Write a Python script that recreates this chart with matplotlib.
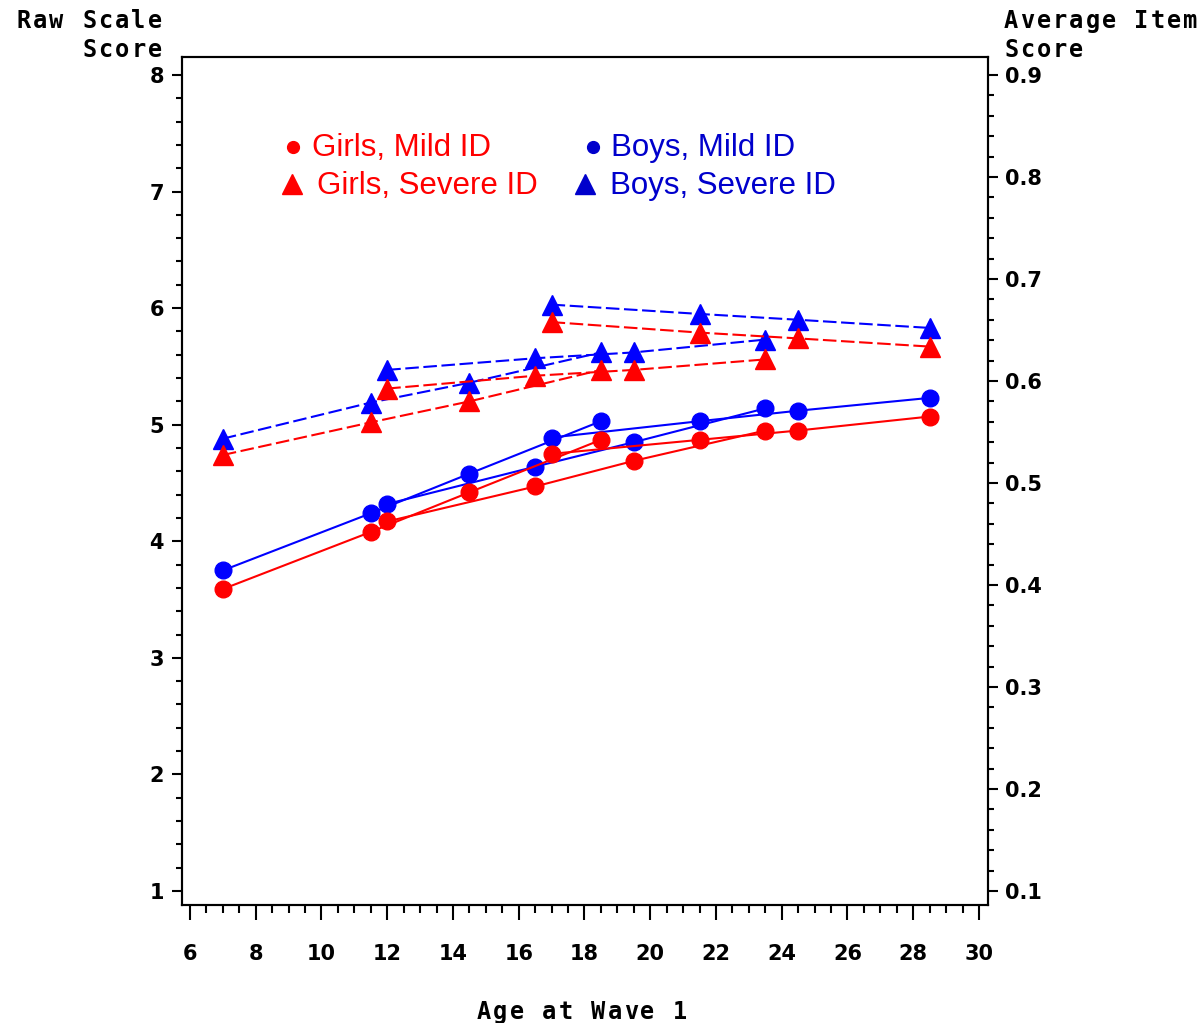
import matplotlib
matplotlib.use("Agg")
import matplotlib.pyplot as plt
from matplotlib.ticker import MultipleLocator, FixedLocator
from matplotlib.font_manager import FontProperties
from matplotlib.lines import Line2D

# Cohort-sequential design: three cohorts, each measured at four waves
ages_cohort_a = [7, 11.5, 14.5, 18.5]
ages_cohort_b = [12, 16.5, 19.5, 23.5]
ages_cohort_c = [17, 21.5, 24.5, 28.5]

# Raw scale scores, one list per cohort
girls_mild_a = [3.59, 4.08, 4.42, 4.87]
girls_mild_b = [4.17, 4.47, 4.69, 4.95]
girls_mild_c = [4.75, 4.87, 4.95, 5.07]

boys_mild_a = [3.75, 4.24, 4.58, 5.03]
boys_mild_b = [4.32, 4.64, 4.85, 5.14]
boys_mild_c = [4.89, 5.03, 5.12, 5.23]

girls_severe_a = [4.74, 5.02, 5.20, 5.47]
girls_severe_b = [5.31, 5.42, 5.47, 5.56]
girls_severe_c = [5.88, 5.79, 5.74, 5.67]

boys_severe_a = [4.88, 5.19, 5.36, 5.62]
boys_severe_b = [5.47, 5.57, 5.62, 5.73]
boys_severe_c = [6.03, 5.95, 5.90, 5.83]

x_ticks = list(range(6, 31, 2))
y_ticks_raw = list(range(1, 9))
y_ticks_item = [0.1, 0.2, 0.3, 0.4, 0.5, 0.6, 0.7, 0.8, 0.9]

legend_labels = ["Girls, Mild ID", "Girls, Severe ID", "Boys, Mild ID", "Boys, Severe ID"]

RED = "#ff0000"
BLUE = "#0000ff"
LEGEND_BLUE = "#0000cc"
AXIS_FONT = "DejaVu Sans"
TITLE_FONT = "DejaVu Sans Mono"

W, H = 1204, 1023
fig = plt.figure(figsize=(W / 100, H / 100), dpi=100)
ax = fig.add_axes([182 / W, 1 - 905 / H, (988 - 182) / W, (905 - 57) / H])

ax.set_xlim(5.757, 30.274)
ax.set_ylim(0.880, 8.154)

cohorts = [ages_cohort_a, ages_cohort_b, ages_cohort_c]
series = [
    (BLUE, "o", 12, "-", [boys_mild_a, boys_mild_b, boys_mild_c]),
    (BLUE, "^", 14, "--", [boys_severe_a, boys_severe_b, boys_severe_c]),
    (RED, "o", 12, "-", [girls_mild_a, girls_mild_b, girls_mild_c]),
    (RED, "^", 14, "--", [girls_severe_a, girls_severe_b, girls_severe_c]),
]
for color, marker, ms, ls, values in series:
    for ages, vals in zip(cohorts, values):
        line, = ax.plot(ages, vals, color=color, lw=1.5, ls=ls,
                        marker=marker, ms=ms, mec=color, mfc=color, zorder=3)
        if ls == "--":
            line.set_dashes((6.5, 2.2))

# Axis styling
for sp in ax.spines.values():
    sp.set_linewidth(1.5)

ax.xaxis.set_major_locator(FixedLocator(x_ticks))
ax.xaxis.set_minor_locator(MultipleLocator(0.5))
ax.yaxis.set_major_locator(FixedLocator(y_ticks_raw))
ax.yaxis.set_minor_locator(MultipleLocator(0.2))
ax.set_xticklabels([str(t) for t in x_ticks])
ax.set_yticklabels([str(t) for t in y_ticks_raw])

tick_font = FontProperties(family=AXIS_FONT, weight="bold", size=15)
ax.tick_params(axis="x", which="major", direction="out", length=11, width=1.5, pad=17)
ax.tick_params(axis="x", which="minor", direction="out", length=6, width=1.5)
ax.tick_params(axis="y", which="major", direction="out", length=7, width=1.5, pad=6)
ax.tick_params(axis="y", which="minor", direction="out", length=4.5, width=1.5)
for lab in ax.get_xticklabels() + ax.get_yticklabels():
    lab.set_fontproperties(tick_font)

ax2 = ax.twinx()
ax2.set_ylim(0.0863, 0.9176)
ax2.yaxis.set_major_locator(FixedLocator(y_ticks_item))
ax2.yaxis.set_minor_locator(MultipleLocator(0.02))
ax2.set_yticklabels([f"{t:.1f}" for t in y_ticks_item])
ax2.tick_params(axis="y", which="major", direction="out", length=7, width=1.5, pad=5)
ax2.tick_params(axis="y", which="minor", direction="out", length=4.5, width=1.5)
for lab in ax2.get_yticklabels():
    lab.set_fontproperties(tick_font)
for sp in ax2.spines.values():
    sp.set_linewidth(1.5)


def spaced_text(s, x_left, y_base, adv=16.3, size=17):
    """Draw a string with a fixed per-character advance (pixel units)."""
    for i, ch in enumerate(s):
        if ch == " ":
            continue
        fig.text((x_left + (i + 0.5) * adv) / W, 1 - y_base / H, ch,
                 ha="center", va="baseline", family=TITLE_FONT, weight="bold",
                 fontsize=size, color="black")


spaced_text("Raw Scale", 163 - 9 * 16.4, 28, adv=16.4)
spaced_text("Score", 163 - 5 * 16.4, 57, adv=16.4)
spaced_text("Average Item", 1003, 28)
spaced_text("Score", 1003, 57)
spaced_text("Age at Wave 1", 476, 1019)


# Legend block drawn inside the plotting area
def fig_pt(x, y):
    return x / W, 1 - y / H


leg_font = dict(family="Liberation Sans", fontsize=22.5, va="baseline", ha="left")
fig.text(*fig_pt(312, 156), legend_labels[0], color=RED, **leg_font)
fig.text(*fig_pt(317, 194), legend_labels[1], color=RED, **leg_font)
fig.text(*fig_pt(611, 156), legend_labels[2], color=LEGEND_BLUE, **leg_font)
fig.text(*fig_pt(610, 194), legend_labels[3], color=LEGEND_BLUE, **leg_font)

for (x, y), marker, ms, color in [((293, 147), "o", 8.5, RED),
                                  ((292, 184), "^", 15, RED),
                                  ((593, 147), "o", 8.5, LEGEND_BLUE),
                                  ((585, 184), "^", 15, LEGEND_BLUE)]:
    fx, fy = fig_pt(x, y)
    fig.add_artist(Line2D([fx], [fy], marker=marker, ms=ms, color=color,
                          mec=color, ls="none", transform=fig.transFigure))

fig.savefig("out.png", dpi=100)
